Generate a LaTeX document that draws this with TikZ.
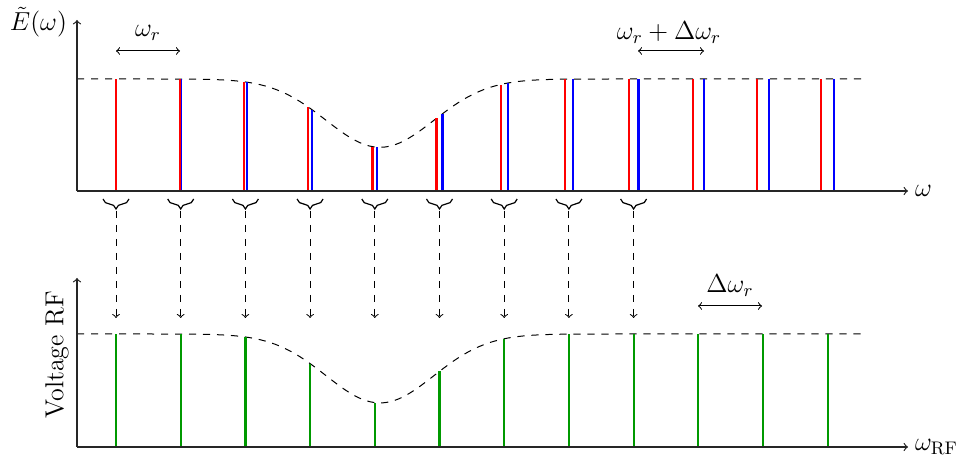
\RequirePackage{fix-cm}
\documentclass[tikz,border=0pt]{standalone}
\usetikzlibrary{decorations.pathreplacing}
\begin{document}
\begin{tikzpicture}[x=0.5pt,y=-0.5pt,
  every node/.style={font=\fontsize{13}{15}\selectfont},
  axis/.style={->,line width=0.6pt,black!85},
  envelope/.style={dash pattern=on 3.6pt off 3.4pt,line width=0.5pt},
  redline/.style={red,line width=1.1pt},
  blueline/.style={blue,line width=1.1pt},
  greenline/.style={green!60!black,line width=1.1pt},
  bracestyle/.style={decorate,decoration={brace,mirror,amplitude=5pt},line width=0.6pt},
  flow/.style={->,dash pattern=on 3.6pt off 3.4pt,line width=0.5pt},
  gap/.style={<->,line width=0.5pt}]
\useasboundingbox (0,0) rectangle (964,459);
% ---------- top panel ----------
\coordinate (o1) at (77,191);
\coordinate (yt1) at (77,20);
\coordinate (xt1) at (908,191);
\draw[envelope] plot[domain=77:865,samples=160]
  (\x,{191-112*(1-0.61*exp(-(((\x-380)/76)^2)))});
\foreach \k in {0,...,11}{
  \pgfmathsetmacro{\rx}{116+64.1*\k}
  \pgfmathsetmacro{\bx}{116+65.3*\k}
  \pgfmathsetmacro{\ry}{191-112*(1-0.61*exp(-(((\rx-380)/76)^2)))}
  \pgfmathsetmacro{\by}{191-112*(1-0.61*exp(-(((\bx-380)/76)^2)))}
  \coordinate (bb\k) at (\bx,191);
  \coordinate (bt\k) at (\bx,\by);
  \coordinate (rb\k) at (\rx,191);
  \coordinate (rt\k) at (\rx,\ry);
  \draw[blueline] (bb\k) -- (bt\k);
  \draw[redline] (rb\k) -- (rt\k);
}
\draw[axis] (o1) -- (xt1);
\draw[axis] (o1) -- (yt1);
\node[anchor=west] (wlab) at (xt1) {$\omega$};
\node[anchor=east] (elab) at (74,22) {$\tilde{E}(\omega)$};
\coordinate (ga1) at (116,51);
\coordinate (gb1) at (180,51);
\draw[gap] (ga1) -- (gb1);
\node (wr) at (148,33) {$\omega_r$};
\coordinate (ga2) at (638,51);
\coordinate (gb2) at (704,51);
\draw[gap] (ga2) -- (gb2);
\node (wrd) at (669,33) {$\omega_r+\Delta\omega_r$};
% ---------- braces and arrows ----------
\foreach \k in {0,...,8}{
  \pgfmathsetmacro{\gx}{116+64.7*\k}
  \coordinate (bl\k) at ({\gx-13},199);
  \coordinate (br\k) at ({\gx+13},199);
  \coordinate (tip\k) at (\gx,211);
  \coordinate (end\k) at (\gx,318);
  \draw[bracestyle] (bl\k) -- (br\k);
  \draw[flow] (tip\k) -- (end\k);
}
% ---------- bottom panel ----------
\coordinate (o2) at (77,447);
\coordinate (yt2) at (77,278);
\coordinate (xt2) at (908,447);
\draw[envelope] plot[domain=77:865,samples=160]
  (\x,{447-113*(1-0.61*exp(-(((\x-380)/76)^2)))});
\foreach \k in {0,...,11}{
  \pgfmathsetmacro{\gx}{116+64.7*\k}
  \pgfmathsetmacro{\gy}{447-113*(1-0.61*exp(-(((\gx-380)/76)^2)))}
  \coordinate (gg\k) at (\gx,447);
  \coordinate (gt\k) at (\gx,\gy);
  \draw[greenline] (gg\k) -- (gt\k);
}
\draw[axis] (o2) -- (xt2);
\draw[axis] (o2) -- (yt2);
\node[anchor=west] (wrf) at (xt2) {$\omega_{\mathrm{RF}}$};
\node[rotate=90] (vlab) at (57,355) {Voltage RF};
\coordinate (ga3) at (698,306);
\coordinate (gb3) at (762,306);
\draw[gap] (ga3) -- (gb3);
\node (dw) at (730,286) {$\Delta\omega_r$};
\end{tikzpicture}
\end{document}
